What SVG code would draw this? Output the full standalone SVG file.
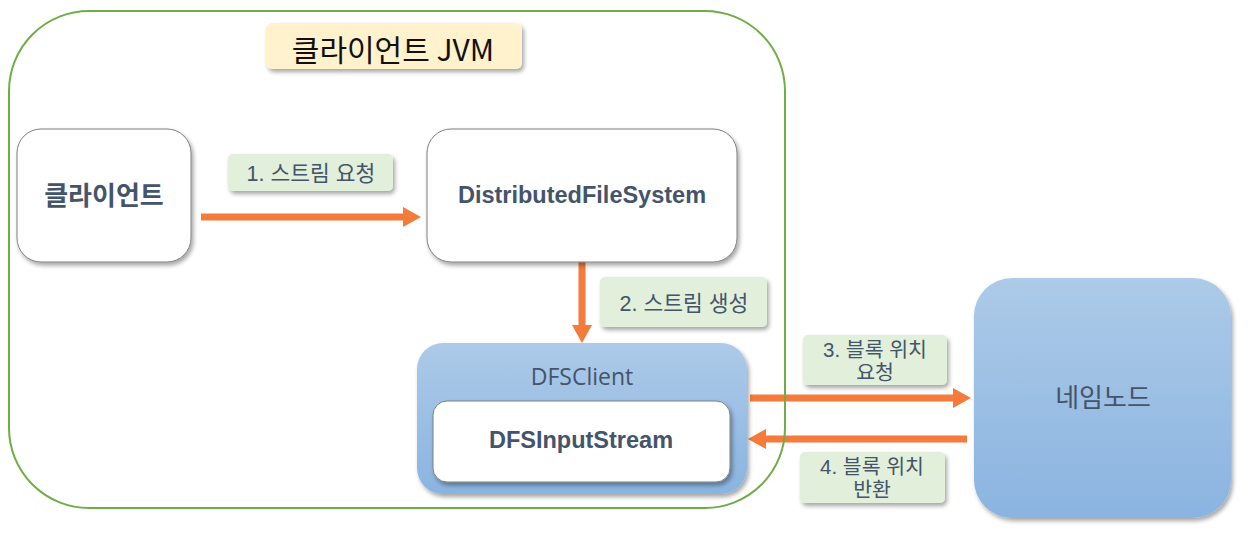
<svg xmlns="http://www.w3.org/2000/svg" width="1248" height="539" viewBox="0 0 1248 539">
  <style>
    .lbl { fill: #E2EFDA; }
    .lbltxt { font-family: "Liberation Sans", "Noto Sans CJK KR", sans-serif; font-size: 21.5px; fill: #44546A; text-anchor: middle; }
    .lbl2 { font-size: 20.5px; }
    .wbox { fill: #FFFFFF; stroke: #7F7F7F; stroke-width: 1; }
    .bold { font-family: "Liberation Sans", "Noto Sans CJK KR", sans-serif; font-weight: bold; fill: #44546A; text-anchor: middle; }
    .kbold { font-family: "Noto Sans CJK KR", sans-serif; font-weight: bold; font-size: 26px; fill: #44546A; text-anchor: middle; }
    .arrow { stroke: #F47B3B; stroke-width: 7; fill: none; }
  </style>
  <defs>
    <filter id="sh" x="-10%" y="-10%" width="125%" height="130%">
      <feDropShadow dx="2" dy="3" stdDeviation="2" flood-color="#000" flood-opacity="0.35"/>
    </filter>
    <linearGradient id="blue" x1="0" y1="0" x2="0" y2="1">
      <stop offset="0" stop-color="#ADCAE8"/>
      <stop offset="1" stop-color="#8AB4E0"/>
    </linearGradient>
    <marker id="ah" markerUnits="userSpaceOnUse" markerWidth="18" markerHeight="20" refX="2" refY="10" orient="auto">
      <path d="M0,0 L18,10 L0,20 Z" fill="#F47B3B"/>
    </marker>
  </defs>
  <rect width="1248" height="539" fill="#FFFFFF"/>

  <g id="connectors">
    <line class="arrow" x1="201" y1="217" x2="405" y2="217" marker-end="url(#ah)"/>
    <line class="arrow" x1="582" y1="262" x2="582" y2="327" marker-end="url(#ah)"/>
    <line class="arrow" x1="750" y1="398" x2="955" y2="398" marker-end="url(#ah)"/>
    <line class="arrow" x1="967" y1="439" x2="764" y2="439" marker-end="url(#ah)"/>
  </g>

  <g id="client-jvm">
    <rect x="9" y="11" width="776" height="497" rx="80" ry="80" fill="none" stroke="#70AD47" stroke-width="2"/>
    <rect x="266" y="23" width="256" height="46" rx="6" fill="#FFF2CC" filter="url(#sh)"/>
    <text x="393" y="61" font-family="Noto Sans CJK KR, sans-serif" font-size="30" fill="#111111" text-anchor="middle">클라이언트 JVM</text>
  </g>

  <g id="client">
    <rect class="wbox" x="17" y="129" width="174" height="133" rx="24" filter="url(#sh)"/>
    <text class="kbold" x="104" y="205">클라이언트</text>
  </g>

  <g id="dfs">
    <rect class="wbox" x="427" y="129" width="310" height="133" rx="24" filter="url(#sh)"/>
    <text class="bold" x="582" y="203" font-size="23.5">DistributedFileSystem</text>
  </g>

  <g id="label1">
    <rect class="lbl" x="228" y="154" width="165" height="37" rx="5" filter="url(#sh)"/>
    <text class="lbltxt" x="311" y="181">1. 스트림 요청</text>
  </g>

  <g id="label2">
    <rect class="lbl" x="600" y="277" width="167" height="50" rx="5" filter="url(#sh)"/>
    <text class="lbltxt" x="684" y="311">2. 스트림 생성</text>
  </g>

  <g id="dfsclient">
    <rect x="417" y="343" width="330" height="151" rx="26" fill="url(#blue)" filter="url(#sh)"/>
    <text x="582" y="385" font-family="Open Sans, Noto Sans, sans-serif" font-size="23" fill="#44546A" text-anchor="middle">DFSClient</text>
    <g id="dfsinputstream">
      <rect class="wbox" x="433" y="401" width="297" height="81" rx="14" filter="url(#sh)"/>
      <text class="bold" x="581" y="448" font-size="23.5">DFSInputStream</text>
    </g>
  </g>

  <g id="label3">
    <rect class="lbl" x="803" y="335" width="144" height="50" rx="5" filter="url(#sh)"/>
    <text class="lbltxt lbl2" x="875" y="357">3. 블록 위치</text>
    <text class="lbltxt lbl2" x="875" y="380">요청</text>
  </g>

  <g id="label4">
    <rect class="lbl" x="800" y="452" width="145" height="51" rx="5" filter="url(#sh)"/>
    <text class="lbltxt lbl2" x="872" y="474">4. 블록 위치</text>
    <text class="lbltxt lbl2" x="872" y="497">반환</text>
  </g>

  <g id="namenode">
    <rect x="974" y="278" width="257" height="240" rx="38" fill="url(#blue)" filter="url(#sh)"/>
    <text x="1103" y="407" font-family="Noto Sans CJK KR, sans-serif" font-size="26" fill="#44546A" text-anchor="middle">네임노드</text>
  </g>
</svg>
